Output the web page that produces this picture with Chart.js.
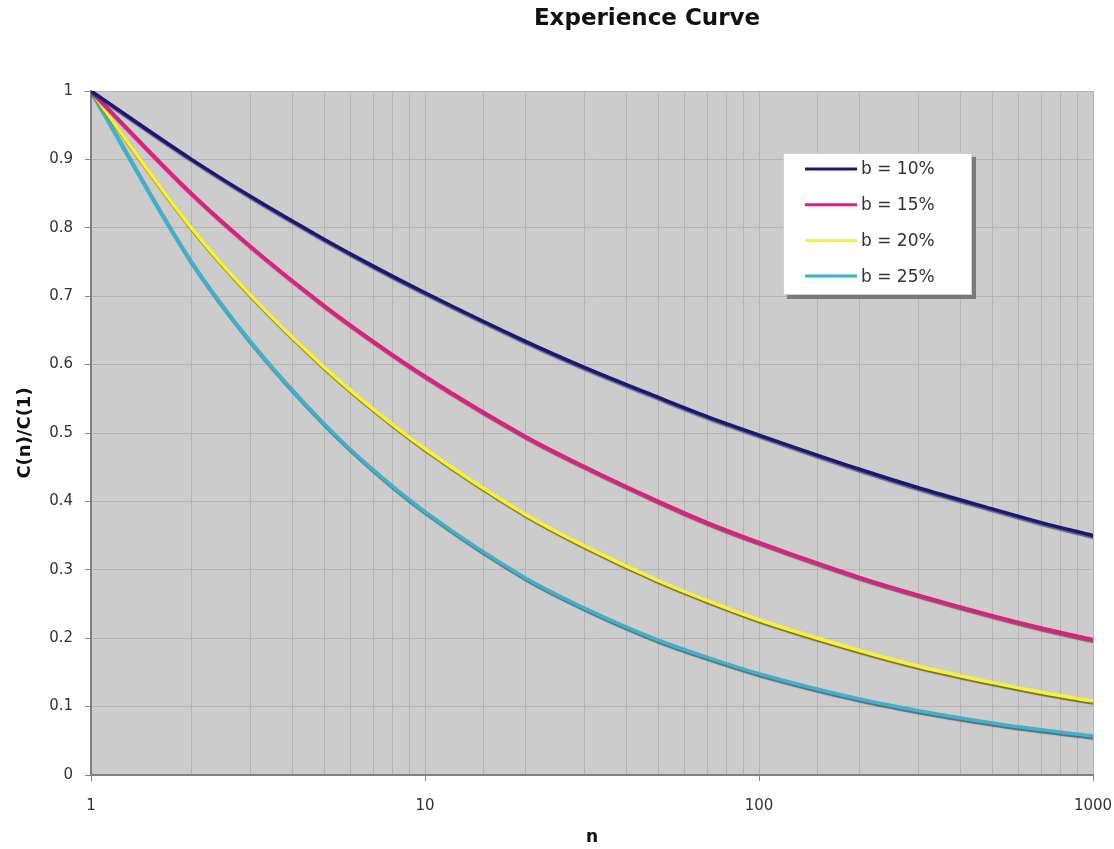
<!DOCTYPE html>
<html>
<head>
<meta charset="utf-8">
<script src="https://cdn.jsdelivr.net/npm/chart.js@4/dist/chart.umd.min.js"></script>
<style>
html,body{margin:0;padding:0;background:#fff;}
#wrap{position:relative;width:1114px;height:849px;}
</style>
</head>
<body>
<div id="wrap"><canvas id="chart" width="1114" height="849"></canvas></div>
<script>
// values
const nValues=[1,2,3,5,7,10,20,30,50,70,100,200,300,500,700,1000];
const b10=[1,0.900,0.846,0.783,0.744,0.705,0.634,0.596,0.552,0.524,0.497,0.447,0.420,0.389,0.369,0.350];
const b15=[1,0.850,0.773,0.686,0.634,0.583,0.495,0.451,0.400,0.369,0.340,0.289,0.263,0.233,0.215,0.198];
const b20=[1,0.800,0.702,0.596,0.535,0.477,0.381,0.335,0.284,0.255,0.227,0.182,0.159,0.135,0.121,0.108];
const b25=[1,0.750,0.634,0.513,0.446,0.385,0.288,0.244,0.197,0.172,0.148,0.111,0.094,0.076,0.066,0.057];
const seriesLabels=['b = 10%','b = 15%','b = 20%','b = 25%'];
const seriesColors=['#1c1580','#f01583','#fcf51a','#35b5d3'];
const xTickLabels=[1,10,100,1000];

const FONT='"DejaVu Sans", Verdana, sans-serif';

function pts(vals){return nValues.map((n,i)=>({x:n,y:vals[i]}));}
const allSeries=[b10,b15,b20,b25];

// gray drop shadow under each curve, like the excel original
const shadowPlugin={
  id:'shadow',
  beforeDatasetDraw(chart){const c=chart.ctx; c.save(); c.shadowColor='rgba(70,70,70,0.75)'; c.shadowOffsetX=1; c.shadowOffsetY=2; c.shadowBlur=1;},
  afterDatasetDraw(chart){chart.ctx.restore();}
};

// plot background
const bgPlugin={
  id:'bg',
  beforeDraw(chart){const a=chart.chartArea,c=chart.ctx; c.save(); c.fillStyle='#cccccc'; c.fillRect(a.left,a.top,a.right-a.left,a.bottom-a.top); c.restore();}
};

// title + boxed legend inside the plot
const decoPlugin={
  id:'deco',
  afterDraw(chart){
    const c=chart.ctx;
    c.save();
    c.fillStyle='#111'; c.font='bold 23px '+FONT; c.textAlign='center'; c.textBaseline='middle';
    c.fillText('Experience Curve',647,19);
    // legend box
    const bx=783,by=153,bw=189,bh=142;
    c.fillStyle='#7a7a7a'; c.fillRect(bx+4,by+4,bw,bh);
    c.fillStyle='#fff'; c.fillRect(bx,by,bw,bh);
    c.strokeStyle='#d0d0d0'; c.lineWidth=1; c.strokeRect(bx+0.5,by+0.5,bw-1,bh-1);
    c.font='17px '+FONT; c.textAlign='left'; c.textBaseline='middle';
    chart.data.datasets.forEach((ds,i)=>{
      const y=169+i*35.7;
      c.strokeStyle=ds.borderColor; c.lineWidth=3;
      c.beginPath(); c.moveTo(805,y); c.lineTo(857,y); c.stroke();
      c.fillStyle='#333'; c.fillText(ds.label,861,y+1);
    });
    c.restore();
  }
};

new Chart(document.getElementById('chart'),{
  type:'line',
  data:{
    datasets:allSeries.map((v,i)=>({
      label:seriesLabels[i],data:pts(v),borderColor:seriesColors[i],backgroundColor:seriesColors[i],
      borderWidth:3.5,pointRadius:0,fill:false,cubicInterpolationMode:'monotone'
    }))
  },
  options:{
    responsive:false,animation:false,
    layout:{padding:{top:91,right:21,left:0,bottom:0}},
    plugins:{legend:{display:false},title:{display:false},tooltip:{enabled:false}},
    scales:{
      x:{
        type:'logarithmic',min:1,max:1000,
        afterFit(s){s.height=74; s.paddingLeft=0; s.paddingRight=0;},
        grid:{color:'#b4b4b4',lineWidth:1,drawTicks:true,tickLength:6,
          tickColor:ctx=>xTickLabels.includes(ctx.tick&&ctx.tick.value)?'#888':'rgba(0,0,0,0)'},
        border:{color:'#808080',width:2},
        ticks:{autoSkip:false,maxRotation:0,padding:16,color:'#333',font:{family:FONT,size:15},
          callback:v=>xTickLabels.includes(v)?String(v):''},
        title:{display:true,text:'n',color:'#111',font:{family:FONT,size:17,weight:'bold'},padding:{top:4,bottom:1}}
      },
      y:{
        min:0,max:1,
        afterFit(s){s.width=91;},
        grid:{color:'#b4b4b4',lineWidth:1,tickLength:6,tickColor:'#888'},
        border:{color:'#808080',width:2},
        ticks:{stepSize:0.1,padding:12,color:'#333',font:{family:FONT,size:15},
          callback:v=>String(Math.round(v*10)/10)},
        title:{display:true,text:'C(n)/C(1)',color:'#111',font:{family:FONT,size:18,weight:'bold'},padding:{top:15,bottom:4}}
      }
    }
  },
  plugins:[bgPlugin,shadowPlugin,decoPlugin]
});
</script>
</body>
</html>
